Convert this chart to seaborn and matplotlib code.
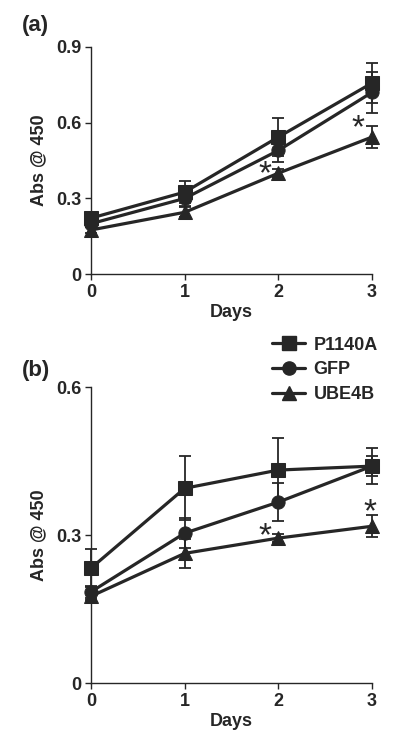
import numpy as np
import pandas as pd
import matplotlib
matplotlib.use("Agg")
import matplotlib.pyplot as plt
import seaborn as sns

days = [0, 1, 2, 3]
groups = ["P1140A", "GFP", "UBE4B"]
markers = {"P1140A": "s", "GFP": "o", "UBE4B": "^"}

# panel (a)
a_p1140a = [0.222, 0.325, 0.543, 0.757]
a_gfp = [0.200, 0.300, 0.490, 0.720]
a_ube4b = [0.175, 0.245, 0.400, 0.543]
a_err_p1140a = [0.020, 0.045, 0.075, 0.080]
a_err_gfp = [0.015, 0.030, 0.045, 0.080]
a_err_ube4b = [0.012, 0.020, 0.015, 0.042]

# panel (b)
b_p1140a = [0.233, 0.395, 0.432, 0.440]
b_gfp = [0.185, 0.304, 0.367, 0.440]
b_ube4b = [0.176, 0.263, 0.294, 0.318]
b_err_p1140a = [0.039, 0.065, 0.065, 0.036]
b_err_gfp = [0.012, 0.030, 0.038, 0.020]
b_err_ube4b = [0.008, 0.030, 0.008, 0.022]

sns.set_style("ticks")
plt.rcParams["font.family"] = ["Liberation Sans", "DejaVu Sans"]
plt.rcParams["font.weight"] = "bold"

ink = "#262626"
fs = 13


def make_df(vals, errs):
    rows = []
    for g, v, e in zip(groups, vals, errs):
        for d, y, s in zip(days, v, e):
            rows.append({"Days": d, "Abs": y, "err": s, "group": g})
    return pd.DataFrame(rows)


def draw(ax, df, ymax, yticks, ytlabels, stars):
    for g in groups:
        sub = df[df["group"] == g]
        ax.errorbar(sub["Days"], sub["Abs"], yerr=sub["err"], fmt="none",
                    ecolor=ink, elinewidth=1.3, capsize=4, capthick=1.3,
                    clip_on=False, zorder=2)
    sns.lineplot(data=df, x="Days", y="Abs", hue="group", style="group",
                 markers=markers, dashes=False, palette=[ink] * 3,
                 markersize=9.5, linewidth=2.3, markeredgecolor=ink,
                 ax=ax, legend=False, clip_on=False, zorder=3)
    ax.set_xlim(0, 3)
    ax.set_ylim(0, ymax)
    ax.set_xticks(days)
    ax.set_yticks(yticks)
    ax.set_yticklabels(ytlabels)
    ax.tick_params(direction="out", length=4, width=1, colors=ink,
                   labelsize=fs, pad=3)
    for lab in ax.get_xticklabels() + ax.get_yticklabels():
        lab.set_fontweight("bold")
    ax.set_xlabel("Days", fontsize=fs, fontweight="bold", color=ink, labelpad=2)
    ax.set_ylabel("Abs @ 450", fontsize=fs, fontweight="bold", color=ink, labelpad=6)
    sns.despine(ax=ax)
    for sp in ["left", "bottom"]:
        ax.spines[sp].set_linewidth(1)
        ax.spines[sp].set_color(ink)
    for x, y in stars:
        ax.annotate("*", (x, y), xytext=(0, -11), textcoords="offset points",
                    fontsize=24, fontweight="normal", color=ink,
                    ha="center", va="baseline")


fig = plt.figure(figsize=(4.0, 7.45), dpi=100)
ax_a = fig.add_axes([0.2275, 0.632, 0.7025, 0.305])
ax_b = fig.add_axes([0.2275, 0.0832, 0.7025, 0.397])

df_a = make_df([a_p1140a, a_gfp, a_ube4b], [a_err_p1140a, a_err_gfp, a_err_ube4b])
df_b = make_df([b_p1140a, b_gfp, b_ube4b], [b_err_p1140a, b_err_gfp, b_err_ube4b])

draw(ax_a, df_a, 0.9, [0, 0.3, 0.6, 0.9], ["0", "0.3", "0.6", "0.9"],
     [(1.86, 0.42), (2.85, 0.603)])
draw(ax_b, df_b, 0.6, [0, 0.3, 0.6], ["0", "0.3", "0.6"],
     [(1.86, 0.31), (2.98, 0.36)])

fig.text(0.055, 0.98, "(a)", fontsize=16, fontweight="bold", color=ink, va="top")
fig.text(0.055, 0.517, "(b)", fontsize=16, fontweight="bold", color=ink, va="top")

handles = [plt.Line2D([], [], color=ink, marker=markers[g], markersize=9.5,
                      linewidth=2.3) for g in groups]
fig.legend(handles, groups, loc="upper left", bbox_to_anchor=(0.68, 0.548),
           frameon=False, fontsize=fs, handlelength=1.85, handletextpad=0.45,
           labelspacing=0.42, borderaxespad=0, borderpad=0)

fig.savefig("out.png", dpi=100)
